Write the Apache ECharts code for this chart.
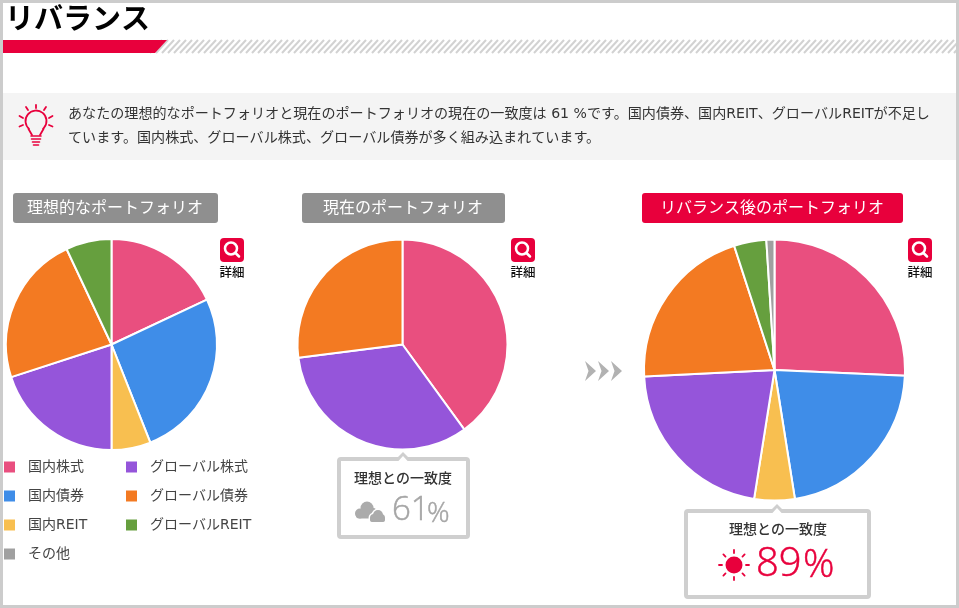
<!DOCTYPE html>
<html>
<head>
<meta charset="utf-8">
<style>html,body{margin:0;padding:0;background:#fff}#chart{width:959px;height:608px}</style>
<script src="https://cdn.jsdelivr.net/npm/echarts@6/dist/echarts.min.js"></script>
</head>
<body>
<div id="chart"></div>
<script>
var categories = ['国内株式', '国内債券', '国内REIT', 'グローバル株式', 'グローバル債券', 'グローバルREIT', 'その他'];
var colors = ['#E94F7F', '#3F8DE8', '#F8BF50', '#9555DA', '#F37A22', '#669F3E', '#A0A0A0'];
var idealValues = [18, 26, 6, 20, 23, 7, 0];
var currentValues = [40, 0, 0, 33, 27, 0, 0];
var rebalancedValues = [25.7, 21.8, 5, 21.7, 20.8, 4.0, 1.0];
var legendLeft = ['国内株式', '国内債券', '国内REIT', 'その他'];
var legendRight = ['グローバル株式', 'グローバル債券', 'グローバルREIT'];
var pageTitle = 'リバランス';
var messageLines = [
    'あなたの理想的なポートフォリオと現在のポートフォリオの現在の一致度は 61 %です。国内債券、国内REIT、グローバルREITが不足し',
    'ています。国内株式、グローバル株式、グローバル債券が多く組み込まれています。'
];
var matchLabel = '理想との一致度';
var currentMatch = '61';
var rebalancedMatch = '89';

var FONT = '"Noto Sans CJK JP", "Noto Sans", sans-serif';
var BODY_FONT = '"DejaVu Sans", "Noto Sans CJK JP", sans-serif';
var NUM_FONT = '"Open Sans", "Noto Sans", sans-serif';
var RED = '#E8003C';
var GRAY = '#CFCFCF';

function pieData(values) {
    var out = [];
    values.forEach(function (v, i) {
        if (v > 0) out.push({name: categories[i], value: v, itemStyle: {color: colors[i]}});
    });
    return out;
}
function pie(values, cx, cy, r) {
    return {
        type: 'pie',
        center: [cx, cy],
        radius: [0, r],
        startAngle: 90,
        clockwise: true,
        label: {show: false},
        labelLine: {show: false},
        silent: true,
        itemStyle: {borderColor: '#fff', borderWidth: 2},
        data: pieData(values)
    };
}
function legend(names, left) {
    return {
        orient: 'vertical',
        left: left,
        top: 458,
        itemWidth: 11,
        itemHeight: 11,
        itemGap: 11,
        padding: 0,
        icon: 'rect',
        selectedMode: false,
        itemStyle: {borderWidth: 0},
        textStyle: {fontFamily: BODY_FONT, fontSize: 14, color: '#444', padding: [0, 0, 0, 8], height: 18, lineHeight: 18},
        data: names
    };
}
function text(str, x, y, size, color, align, weight, family) {
    return {
        type: 'text',
        z: 10,
        style: {
            text: str, x: x, y: y, fill: color,
            font: (weight || 'normal') + ' ' + size + 'px ' + (family || FONT),
            textAlign: align || 'left', textVerticalAlign: 'middle'
        }
    };
}
function numText(str, x, y, size, color) {
    var t = text(str, x, y, size, color, 'left', '300', NUM_FONT);
    t.style.stroke = color;
    t.style.lineWidth = 0.5;
    return t;
}
function line(x1, y1, x2, y2, color, width) {
    return {
        type: 'line', z: 5,
        shape: {x1: x1, y1: y1, x2: x2, y2: y2},
        style: {stroke: color, lineWidth: width, lineCap: 'round'}
    };
}
function circle(cx, cy, r, style) {
    return {type: 'circle', z: 5, shape: {cx: cx, cy: cy, r: r}, style: style};
}
function poly(points, fill) {
    return {type: 'polygon', z: 5, shape: {points: points}, style: {fill: fill}};
}
function pill(x, w, color, str) {
    return [
        {type: 'rect', z: 5, shape: {x: x, y: 193, width: w, height: 30, r: 3}, style: {fill: color}},
        text(str, x + w / 2 - 0.5, 207, 16, '#fff', 'center')
    ];
}
function detail(x, y) {
    return [
        {type: 'rect', z: 5, shape: {x: x, y: y, width: 24, height: 24, r: 4}, style: {fill: RED}},
        circle(x + 11, y + 10.5, 6, {fill: 'none', stroke: '#fff', lineWidth: 2.5}),
        line(x + 15.5, y + 15, x + 19, y + 18.5, '#fff', 2.5),
        text('詳細', x + 12, y + 34, 12.5, '#111', 'center', '500')
    ];
}
function callout(x, y, w, h, tip) {
    return [
        {type: 'rect', z: 5, shape: {x: x + 2, y: y + 2, width: w - 4, height: h - 4, r: 2},
            style: {fill: '#fff', stroke: GRAY, lineWidth: 4}},
        poly([[tip - 6, y + 1], [tip, y - 5], [tip + 6, y + 1]], GRAY),
        poly([[tip - 5, y + 4.5], [tip, y - 1], [tip + 5, y + 4.5]], '#fff')
    ];
}
function chevron(x) {
    return poly([[x, 361], [x + 11, 371], [x, 381], [x + 3.5, 371]], '#B2B2B2');
}

var elements = [];
// frame and heading
elements.push(text(pageTitle, 5, 18, 29, '#000', 'left', 'bold'));
for (var hx = 150; hx < 960; hx += 6) {
    elements.push({type: 'line', z: 1, shape: {x1: hx, y1: 53, x2: hx + 12, y2: 40},
        style: {stroke: '#D2D2D2', lineWidth: 2}});
}
elements.push(poly([[0, 40], [167, 40], [155, 53], [0, 53]], RED));

// message box
elements.push({type: 'rect', z: 1, shape: {x: 3, y: 93, width: 953, height: 67}, style: {fill: '#F4F4F4'}});
elements.push(text(messageLines[0], 68, 114, 14.08, '#333', 'left', 'normal', BODY_FONT));
elements.push(text(messageLines[1], 68, 138.5, 14.08, '#333', 'left', 'normal', BODY_FONT));
// bulb icon
elements.push({type: 'arc', z: 5, shape: {cx: 36, cy: 121, r: 10.5, startAngle: Math.PI * 0.72, endAngle: Math.PI * 0.28, clockwise: true},
    style: {fill: 'none', stroke: RED, lineWidth: 1.8}});
elements.push(line(28.5, 129, 32, 135, RED, 1.8), line(43.5, 129, 40, 135, RED, 1.8));
elements.push(line(31, 136, 41, 136, RED, 1.6), line(31.5, 139, 40.5, 139, RED, 1.6), line(32.5, 142, 39.5, 142, RED, 1.6), line(33.5, 145, 38.5, 145, RED, 1.6));
[[36, 105, 36, 108], [26, 107, 28, 110], [46, 107, 44, 110], [19.5, 116, 23, 118], [52.5, 116, 49, 118], [19.5, 126.5, 23, 125], [52.5, 126.5, 49, 125]].forEach(function (p) {
    elements.push(line(p[0], p[1], p[2], p[3], RED, 1.8));
});

// headers
elements = elements.concat(pill(13, 205, '#8F8F8F', '理想的なポートフォリオ'));
elements = elements.concat(pill(302, 203, '#8F8F8F', '現在のポートフォリオ'));
elements = elements.concat(pill(642, 261, RED, 'リバランス後のポートフォリオ'));
elements = elements.concat(detail(220, 238), detail(511, 238), detail(908, 238));

// arrows
elements.push(chevron(585), chevron(598), chevron(611));

// current match box
elements = elements.concat(callout(337, 457, 133, 82, 403));
elements.push(text(matchLabel, 403, 478, 14, '#333', 'center', '500'));
[[360, 513.5, 5], [367, 508, 6.5], [372, 513, 5.5]].forEach(function (c) {
    elements.push(circle(c[0], c[1], c[2], {fill: '#ABABAB'}));
});
elements.push({type: 'rect', z: 5, shape: {x: 356, y: 512, width: 18, height: 6.5, r: 3}, style: {fill: '#ABABAB'}});
[[374, 518, 4], [378, 515, 5], [381, 518, 4]].forEach(function (c) {
    elements.push(circle(c[0], c[1], c[2], {fill: '#fff', stroke: '#fff', lineWidth: 3}));
});
[[374, 518, 4], [378, 515, 5], [381, 518, 4]].forEach(function (c) {
    elements.push(circle(c[0], c[1], c[2], {fill: '#ABABAB'}));
});
elements.push({type: 'rect', z: 5, shape: {x: 370, y: 517, width: 15, height: 5, r: 2}, style: {fill: '#ABABAB'}});
elements.push(numText(currentMatch, 392, 511, 33, '#A5A5A5'));
elements.push(numText('%', 427, 514, 28, '#A5A5A5'));

// rebalanced match box
elements = elements.concat(callout(684, 509, 187, 90, 777));
elements.push(text(matchLabel, 778, 529, 14, '#333', 'center', '500'));
elements.push(circle(734, 565, 8.5, {fill: RED}));
for (var a = 0; a < 8; a++) {
    var t = a * Math.PI / 4;
    elements.push(line(734 + 12 * Math.cos(t), 565 + 12 * Math.sin(t), 734 + 15 * Math.cos(t), 565 + 15 * Math.sin(t), RED, 1.8));
}
elements.push(numText(rebalancedMatch, 756, 565, 40, RED));
elements.push(numText('%', 803, 566, 39, RED));

// outer frame on top of everything
elements.push({type: 'rect', z: 20, shape: {x: 1.5, y: 1.5, width: 956, height: 605}, style: {fill: 'none', stroke: '#CCCCCC', lineWidth: 3}});

var chart = echarts.init(document.getElementById('chart'));
chart.setOption({
    animation: false,
    backgroundColor: '#fff',
    legend: [legend(legendLeft, 4), legend(legendRight, 126)],
    series: [
        pie(idealValues, 111.5, 344.5, 105.5),
        pie(currentValues, 402.5, 344.5, 105),
        pie(rebalancedValues, 774.5, 370, 130.5)
    ],
    graphic: {elements: elements}
});
</script>
</body>
</html>
